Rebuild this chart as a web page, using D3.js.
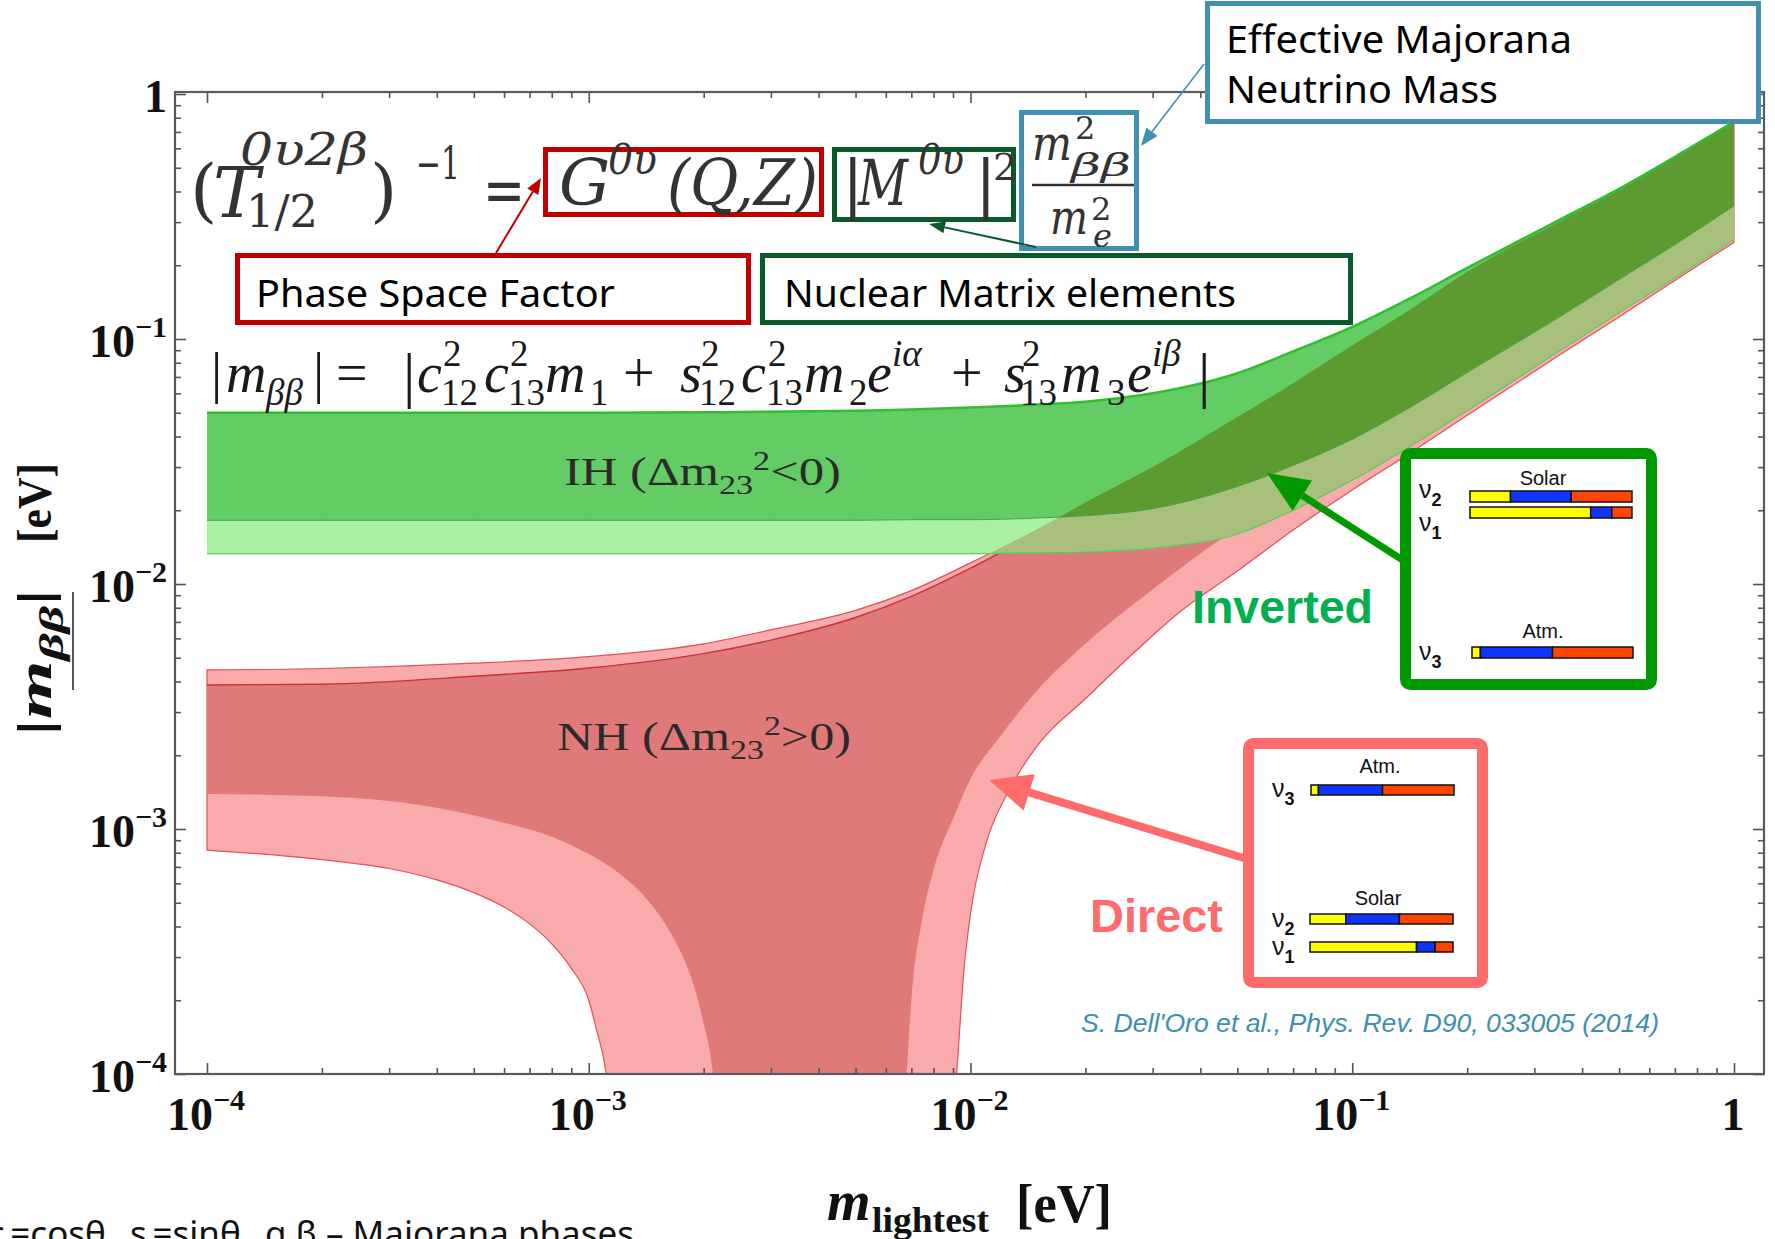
<!DOCTYPE html>
<html>
<head>
<meta charset="utf-8">
<script src="https://cdn.jsdelivr.net/npm/d3@7"></script>
<style>
  body { margin: 0; background: #fff; }
  svg { display: block; }
</style>
</head>
<body>
<div id="chart"></div>
<script>
// m_lightest grid [eV] for the upper edges and the IH band
const mGrid = [1e-4, 2e-4, 5e-4, 1e-3, 2e-3, 3e-3, 5e-3, 7e-3, 1e-2, 1.5e-2, 2e-2, 3e-2, 5e-2, 7e-2, 0.1, 0.14, 0.2, 0.34, 0.5, 0.75, 1.0];

// IH band |m_bb| [eV]
const ihUpper = [0.050, 0.050, 0.050, 0.050, 0.0502, 0.0505, 0.051, 0.0515, 0.0525, 0.054, 0.0555, 0.060, 0.0725, 0.089, 0.112, 0.145, 0.195, 0.30, 0.41, 0.59, 0.77];
const ihMid   = [0.0182, 0.0182, 0.0182, 0.0182, 0.0182, 0.0182, 0.0182, 0.0183, 0.0183, 0.0186, 0.019, 0.0203, 0.025, 0.0305, 0.039, 0.052, 0.073, 0.12, 0.175, 0.26, 0.35];
const ihLow   = [0.0133, 0.0133, 0.0133, 0.0133, 0.0133, 0.0133, 0.0133, 0.0133, 0.0133, 0.0134, 0.0135, 0.0140, 0.0160, 0.0200, 0.0265, 0.036, 0.051, 0.087, 0.128, 0.19, 0.255];

// NH band upper edges |m_bb| [eV]
const nhUpperLight = [0.00446, 0.00452, 0.00475, 0.00505, 0.0057, 0.0065, 0.0078, 0.0094, 0.0122, 0.0168, 0.0215, 0.030, 0.048, 0.066, 0.094, 0.13, 0.188, 0.295, 0.405, 0.585, 0.765];
const nhUpperDark  = [0.00387, 0.0039, 0.0042, 0.00454, 0.0052, 0.0059, 0.0073, 0.0089, 0.0116, 0.0163, 0.021, 0.0295, 0.047, 0.065, 0.092, 0.128, 0.185, 0.29, 0.40, 0.58, 0.76];

// NH lower edge, left branch (falls into the cancellation funnel)
const nhLeftLightM = [1e-4, 2e-4, 3e-4, 4e-4, 5e-4, 6e-4, 7e-4, 8e-4, 9e-4, 1e-3, 1.05e-3, 1.1e-3, 1.13e-3, 1.15e-3];
const nhLeftLight  = [0.00082, 0.00075, 0.00069, 0.00062, 0.00055, 0.00048, 0.00041, 0.00034, 0.00027, 0.0002, 0.00015, 0.00011, 0.00008, 0.00005];
const nhLeftDarkM  = [1e-4, 2e-4, 4e-4, 6e-4, 8e-4, 1e-3, 1.2e-3, 1.4e-3, 1.6e-3, 1.8e-3, 1.9e-3, 2.0e-3, 2.1e-3, 2.2e-3];
const nhLeftDark   = [0.00139, 0.00136, 0.00122, 0.00106, 0.00093, 0.00079, 0.00066, 0.00053, 0.00040, 0.00028, 0.00022, 0.00016, 0.00011, 0.00005];

// NH lower edge, right branch (rises out of the funnel)
const nhRightDarkM  = [6.5e-3, 6.8e-3, 7e-3, 7.5e-3, 8e-3, 9e-3, 0.01, 0.012, 0.015, 0.02, 0.03, 0.05, 0.07, 0.1, 0.14, 0.2, 0.34, 0.5, 0.75, 1.0];
const nhRightDark   = [0.00005, 0.0001, 0.0002, 0.00044, 0.00068, 0.0011, 0.0016, 0.0024, 0.0037, 0.0057, 0.0095, 0.017, 0.024, 0.035, 0.050, 0.070, 0.12, 0.175, 0.26, 0.35];
const nhRightLightM = [8.9e-3, 9.2e-3, 9.6e-3, 0.01, 0.011, 0.0125, 0.015, 0.02, 0.027, 0.035, 0.05, 0.07, 0.1, 0.14, 0.2, 0.34, 0.5, 0.75, 1.0];
const nhRightLight  = [0.00005, 0.0001, 0.00026, 0.00045, 0.00088, 0.0014, 0.0022, 0.0034, 0.0053, 0.0076, 0.0113, 0.0166, 0.0242, 0.0338, 0.0488, 0.0838, 0.123, 0.186, 0.248];

// axis ticks
const majorTicks = [1e-4, 1e-3, 1e-2, 1e-1, 1];

// flavour content of the mass states (e, mu, tau)
const nu1Mix = [0.745, 0.13, 0.125];
const nu2Mix = [0.25, 0.375, 0.375];
const nu3Mix = [0.052, 0.448, 0.50];

const W = 1775, H = 1239;
const frame = {left: 175, right: 1764, top: 92, bottom: 1074};

const svg = d3.select("#chart").append("svg")
    .attr("width", W)
    .attr("height", H)
    .style("background", "#fff");

const x = d3.scaleLog().domain([1e-4, 1]).range([207, 1734]);
const y = d3.scaleLog().domain([1e-4, 1]).range([1074, 94]);

function pts(ms, vs) { return ms.map((m, i) => [m, vs[i]]); }

const line = d3.line()
    .x(d => x(d[0]))
    .y(d => y(d[1]))
    .curve(d3.curveMonotoneX);

// closed region: upper edge left->right, right branch back down, left branch back up
function regionPath(upper, right, left) {
    let p = line(upper);
    p += line(right.slice().reverse()).replace(/^M/, "L");
    p += line(left.slice().reverse()).replace(/^M/, "L");
    return p + "Z";
}

const nhLightPath = regionPath(pts(mGrid, nhUpperLight), pts(nhRightLightM, nhRightLight), pts(nhLeftLightM, nhLeftLight));
const nhDarkPath  = regionPath(pts(mGrid, nhUpperDark), pts(nhRightDarkM, nhRightDark), pts(nhLeftDarkM, nhLeftDark));

const ihData = mGrid.map((m, i) => ({m: m, hi: ihUpper[i], mid: ihMid[i], lo: ihLow[i]}));
const ihMidArea = d3.area().x(d => x(d.m)).y0(d => y(d.mid)).y1(d => y(d.hi)).curve(d3.curveMonotoneX);
const ihLowArea = d3.area().x(d => x(d.m)).y0(d => y(d.lo)).y1(d => y(d.mid)).curve(d3.curveMonotoneX);

const defs = svg.append("defs");
defs.append("clipPath").attr("id", "plotClip")
    .append("rect")
    .attr("x", frame.left).attr("y", frame.top)
    .attr("width", frame.right - frame.left).attr("height", frame.bottom - frame.top);
defs.append("clipPath").attr("id", "nhClip")
    .append("path").attr("d", nhLightPath);

const plot = svg.append("g").attr("clip-path", "url(#plotClip)");

// NH bands
plot.append("path").attr("d", nhLightPath).attr("fill", "#f9aaaa").attr("stroke", "#e0505c").attr("stroke-width", 1.2);
plot.append("path").attr("d", nhDarkPath).attr("fill", "#e07a7a");
plot.append("path").attr("d", line(pts(mGrid, nhUpperDark))).attr("fill", "none").attr("stroke", "#c8303e").attr("stroke-width", 1.4);

// IH bands
plot.append("path").datum(ihData).attr("d", ihLowArea).attr("fill", "#a9f0a0");
plot.append("path").datum(ihData).attr("d", ihMidArea).attr("fill", "#64cc64");

// overlap of IH with NH
const over = plot.append("g").attr("clip-path", "url(#nhClip)");
over.append("path").datum(ihData).attr("d", ihLowArea).attr("fill", "#a9c07c");
over.append("path").datum(ihData).attr("d", ihMidArea).attr("fill", "#5e9a32");

// IH edges
plot.append("path").attr("d", line(pts(mGrid, ihUpper))).attr("fill", "none").attr("stroke", "#2fbf2f").attr("stroke-width", 2.5);
plot.append("path").attr("d", line(pts(mGrid, ihMid))).attr("fill", "none").attr("stroke", "#46a046").attr("stroke-width", 1);
plot.append("path").attr("d", line(pts(mGrid, ihLow))).attr("fill", "none").attr("stroke", "#5ccc5c").attr("stroke-width", 1.2);

// minor ticks per decade
let minorTicks = [];
majorTicks.slice(0, -1).forEach(d => { for (let k = 2; k < 10; k++) minorTicks.push(k * d); });

function tickAxis(axisFn, scale, vals, size, tr) {
    const g = svg.append("g").attr("transform", tr)
        .call(axisFn(scale).tickValues(vals).tickSize(size).tickFormat(""));
    g.select(".domain").remove();
    g.selectAll("line").attr("stroke", "#555").attr("stroke-width", 1.6);
}
tickAxis(d3.axisBottom, x, majorTicks, -11, "translate(0," + frame.bottom + ")");
tickAxis(d3.axisBottom, x, minorTicks, -6, "translate(0," + frame.bottom + ")");
tickAxis(d3.axisTop, x, majorTicks, -11, "translate(0," + frame.top + ")");
tickAxis(d3.axisTop, x, minorTicks, -6, "translate(0," + frame.top + ")");
tickAxis(d3.axisLeft, y, majorTicks, -11, "translate(" + frame.left + ",0)");
tickAxis(d3.axisLeft, y, minorTicks, -6, "translate(" + frame.left + ",0)");
tickAxis(d3.axisRight, y, majorTicks, -11, "translate(" + frame.right + ",0)");
tickAxis(d3.axisRight, y, minorTicks, -6, "translate(" + frame.right + ",0)");

// frame
svg.append("rect")
    .attr("x", frame.left).attr("y", frame.top)
    .attr("width", frame.right - frame.left).attr("height", frame.bottom - frame.top)
    .attr("fill", "none").attr("stroke", "#5a5a5a").attr("stroke-width", 2.2);

// tick labels 10^n
function powLabel(v, px, py, anchor) {
    const e = Math.round(Math.log10(v));
    const t = svg.append("text")
        .attr("x", px).attr("y", py).attr("text-anchor", anchor)
        .attr("font-family", "Liberation Serif, serif").attr("font-weight", "bold")
        .attr("font-size", 46).attr("fill", "#111");
    if (e === 0) { t.text("1"); return; }
    t.append("tspan").text("10");
    t.append("tspan").attr("font-size", 30).attr("dy", -20).text("\u2212" + (-e));
}
majorTicks.forEach(v => powLabel(v, 167, y(v) + 18, "end"));
majorTicks.forEach(v => powLabel(v, x(v) - 1, 1130, "middle"));

// axis titles
const yt = svg.append("text")
    .attr("transform", "translate(51,736) rotate(-90)")
    .attr("font-family", "Liberation Serif, serif").attr("font-weight", "bold")
    .attr("font-size", 48).attr("fill", "#111")
    .attr("textLength", 147).attr("lengthAdjust", "spacingAndGlyphs");
yt.append("tspan").text("|");
yt.append("tspan").attr("font-style", "italic").text("m");
yt.append("tspan").attr("font-style", "italic").attr("font-size", 34).attr("dy", 12).text("\u03b2\u03b2");
yt.append("tspan").attr("dy", -12).text("|");
svg.append("text")
    .attr("transform", "translate(51,543) rotate(-90)")
    .attr("font-family", "Liberation Serif, serif").attr("font-weight", "bold")
    .attr("font-size", 48).attr("fill", "#111")
    .attr("textLength", 80).attr("lengthAdjust", "spacingAndGlyphs")
    .text("[eV]");
svg.append("line").attr("x1", 73).attr("x2", 73).attr("y1", 592).attr("y2", 690)
    .attr("stroke", "#222").attr("stroke-width", 1.5);

svg.append("text").attr("x", 827).attr("y", 1220)
    .attr("font-family", "Liberation Serif, serif").attr("font-weight", "bold").attr("font-style", "italic")
    .attr("font-size", 56).attr("fill", "#111").text("m");
svg.append("text").attr("x", 872).attr("y", 1232)
    .attr("font-family", "Liberation Serif, serif").attr("font-weight", "bold")
    .attr("font-size", 36).attr("fill", "#111")
    .attr("textLength", 117).attr("lengthAdjust", "spacingAndGlyphs").text("lightest");
svg.append("text").attr("x", 1016).attr("y", 1222)
    .attr("font-family", "Liberation Serif, serif").attr("font-weight", "bold")
    .attr("font-size", 54).attr("fill", "#111")
    .attr("textLength", 96).attr("lengthAdjust", "spacingAndGlyphs").text("[eV]");

// band labels
function hierLabel(txt, sign, px, py, len) {
    const t = svg.append("text").attr("x", px).attr("y", py)
        .attr("font-family", "Liberation Serif, serif").attr("font-size", 40).attr("fill", "#2b2b2b")
        .attr("textLength", len).attr("lengthAdjust", "spacingAndGlyphs");
    t.append("tspan").text(txt + " (\u0394m");
    t.append("tspan").attr("font-size", 27).attr("dy", 9).text("23");
    t.append("tspan").attr("font-size", 27).attr("dy", -24).text("2");
    t.append("tspan").attr("dy", 15).text(sign + "0)");
}
hierLabel("IH", "<", 564, 485, 277);
hierLabel("NH", ">", 557, 750, 294);

// ---- annotations ----
function box(x0, y0, x1, y1, color, sw, rx, fill) {
    svg.append("rect")
        .attr("x", x0 + sw / 2).attr("y", y0 + sw / 2)
        .attr("width", x1 - x0 - sw).attr("height", y1 - y0 - sw)
        .attr("rx", rx || 0)
        .attr("fill", fill || "#fff").attr("stroke", color).attr("stroke-width", sw);
}

function arrow(x1, y1, x2, y2, color, sw, hl, hw) {
    const a = Math.atan2(y2 - y1, x2 - x1);
    const bx = x2 - hl * Math.cos(a), by = y2 - hl * Math.sin(a);
    svg.append("line").attr("x1", x1).attr("y1", y1).attr("x2", bx).attr("y2", by)
        .attr("stroke", color).attr("stroke-width", sw);
    const nx = -Math.sin(a) * hw / 2, ny = Math.cos(a) * hw / 2;
    svg.append("polygon")
        .attr("points", [[x2, y2], [bx + nx, by + ny], [bx - nx, by - ny]].map(p => p.join(",")).join(" "))
        .attr("fill", color);
}

function label(txt, px, py, size, len, color, extra) {
    const t = svg.append("text").attr("x", px).attr("y", py)
        .attr("font-family", "Noto Sans, Open Sans, sans-serif").attr("font-size", size)
        .attr("fill", color || "#000").text(txt);
    if (len) t.attr("textLength", len).attr("lengthAdjust", "spacingAndGlyphs");
    if (extra) extra(t);
    return t;
}

// formula boxes
box(543, 147, 824, 217, "#c00000", 5, 0, "none");
box(832, 147, 1016, 222, "#0b5a2c", 5, 0, "none");
box(1019, 110, 1139, 251, "#4090b0", 5, 0, "#fff");

// formula 1
const f1 = svg.append("g").attr("fill", "#333").attr("font-family", "DejaVu Serif, serif");
const f1Tokens = [
    {t: "(", x: 190, y: 214, s: 70},
    {t: "T", x: 213, y: 217, s: 70, it: 1},
    {t: "0\u03c52\u03b2", x: 240, y: 165, s: 44, it: 1, w: 128},
    {t: "1/2", x: 246, y: 227, s: 44, w: 72},
    {t: ")", x: 370, y: 214, s: 70},
    {t: "\u22121", x: 416, y: 179, s: 44, w: 44},
    {t: "=", x: 483, y: 212, s: 66, w: 42},
    {t: "G", x: 559, y: 205, s: 64, it: 1},
    {t: "0\u03c5", x: 608, y: 174, s: 42, it: 1, w: 49},
    {t: "(Q,Z)", x: 667, y: 205, s: 64, it: 1, w: 151},
    {t: "|", x: 842, y: 206, s: 64},
    {t: "M", x: 858, y: 205, s: 64, it: 1, w: 50},
    {t: "0\u03c5", x: 918, y: 174, s: 42, it: 1, w: 46},
    {t: "|", x: 975, y: 206, s: 64},
    {t: "2", x: 993, y: 180, s: 38},
    {t: "m", x: 1032, y: 160, s: 48, it: 1, w: 40},
    {t: "2", x: 1075, y: 139, s: 32},
    {t: "\u03b2\u03b2", x: 1071, y: 176, s: 32, it: 1, w: 60},
    {t: "m", x: 1050, y: 234, s: 48, it: 1, w: 38},
    {t: "2", x: 1091, y: 220, s: 32},
    {t: "e", x: 1093, y: 247, s: 32, it: 1}
];
f1Tokens.forEach(d => {
    const el = f1.append("text").attr("x", d.x).attr("y", d.y).attr("font-size", d.s)
        .attr("font-style", d.it ? "italic" : "normal").text(d.t);
    if (d.w) el.attr("textLength", d.w).attr("lengthAdjust", "spacingAndGlyphs");
});
svg.append("line").attr("x1", 1032).attr("x2", 1134).attr("y1", 185).attr("y2", 185)
    .attr("stroke", "#333").attr("stroke-width", 2.5);

// arrow to the blue box
arrow(1204, 64, 1141, 146, "#4090b0", 1.6, 18, 14);

// boxes with captions
box(235, 253, 751, 325, "#c00000", 5);
label("Phase Space Factor", 256, 307, 38, 359);
box(760, 253, 1353, 325, "#0b5a2c", 5);
label("Nuclear Matrix elements", 784, 307, 38, 452);
box(1205, 1, 1761, 124, "#4090b0", 5);
label("Effective Majorana", 1226, 53, 38, 346);
label("Neutrino Mass", 1226, 103, 38, 272);

arrow(496, 253, 541, 178, "#c00000", 2, 16, 13);
arrow(1036, 247, 929, 224, "#0b5a2c", 2, 16, 12);

// formula 2
const f2 = svg.append("g").attr("fill", "#1a1a1a").attr("font-family", "Liberation Serif, serif");
const roles = {main: [392, 56], sup: [366, 37], sub: [405, 37], bar: [396, 62]};
const f2Tokens = [
    ["|", 211, "main"], ["m", 226, "main", 1], ["\u03b2\u03b2", 266, "sub", 1], ["|", 313, "main"],
    ["=", 336, "main"], ["|", 403, "bar"],
    ["c", 417, "main", 1], ["2", 443, "sup"], ["12", 441, "sub"],
    ["c", 484, "main", 1], ["2", 510, "sup"], ["13", 508, "sub"],
    ["m", 545, "main", 1], ["1", 590, "sub"],
    ["+", 623, "main"],
    ["s", 680, "main", 1], ["2", 701, "sup"], ["12", 699, "sub"],
    ["c", 741, "main", 1], ["2", 768, "sup"], ["13", 766, "sub"],
    ["m", 804, "main", 1], ["2", 849, "sub"],
    ["e", 867, "main", 1], ["i\u03b1", 892, "sup", 1],
    ["+", 951, "main"],
    ["s", 1004, "main", 1], ["2", 1022, "sup"], ["13", 1020, "sub"],
    ["m", 1061, "main", 1], ["3", 1107, "sub"],
    ["e", 1127, "main", 1], ["i\u03b2", 1152, "sup", 1],
    ["|", 1198, "bar"]
];
f2Tokens.forEach(d => {
    f2.append("text").attr("x", d[1]).attr("y", roles[d[2]][0]).attr("font-size", roles[d[2]][1])
        .attr("font-style", d[3] ? "italic" : "normal").text(d[0]);
});

// inverted / direct annotations
label("Inverted", 1192, 623, 46, 181, "#00b050", t => t.attr("font-family", "Liberation Sans, Arial, sans-serif").attr("font-weight", "bold"));
label("Direct", 1090, 932, 46, 133, "#ff6b6b", t => t.attr("font-family", "Liberation Sans, Arial, sans-serif").attr("font-weight", "bold"));
arrow(1412, 566, 1267, 473, "#009a00", 7, 42, 36);
arrow(1250, 860, 989, 780, "#ff6b6b", 8, 42, 38);

box(1400, 448, 1657, 690, "#009a00", 11, 5);
box(1243, 738, 1488, 988, "#ff6b6b", 11, 5);

const flavColors = ["#ffff00", "#1034ff", "#ff4500"];
function mixBar(x0, x1, y0, h, mix) {
    const bx = d3.scaleLinear().domain([0, 1]).range([x0, x1]);
    let acc = 0;
    mix.forEach((f, i) => {
        svg.append("rect").attr("x", bx(acc)).attr("y", y0).attr("width", bx(acc + f) - bx(acc)).attr("height", h)
            .attr("fill", flavColors[i]).attr("stroke", "#111").attr("stroke-width", 1.5);
        acc += f;
    });
}
function nuLabel(n, px, py) {
    const t = svg.append("text").attr("x", px).attr("y", py)
        .attr("font-family", "Liberation Sans, Arial, sans-serif").attr("font-size", 25).attr("fill", "#111");
    t.append("tspan").text("\u03bd");
    t.append("tspan").attr("font-size", 18).attr("font-weight", "bold").attr("dy", 8).text(n);
}
function smallTitle(txt, cx, py) {
    svg.append("text").attr("x", cx).attr("y", py).attr("text-anchor", "middle")
        .attr("font-family", "Liberation Sans, Arial, sans-serif").attr("font-size", 20).attr("fill", "#111").text(txt);
}

// inverted ordering legend
smallTitle("Solar", 1543, 485);
nuLabel("2", 1419, 498);
mixBar(1470, 1632, 491, 11, nu2Mix);
mixBar(1470, 1632, 507, 11, nu1Mix);
nuLabel("1", 1419, 531);
smallTitle("Atm.", 1543, 638);
nuLabel("3", 1419, 660);
mixBar(1472, 1633, 647, 11, nu3Mix);

// normal ordering legend
smallTitle("Atm.", 1380, 773);
nuLabel("3", 1272, 797);
mixBar(1311, 1454, 785, 10, nu3Mix);
smallTitle("Solar", 1378, 905);
nuLabel("2", 1272, 927);
mixBar(1310, 1453, 914, 10, nu2Mix);
mixBar(1310, 1453, 942, 10, nu1Mix);
nuLabel("1", 1272, 955);

// reference
svg.append("text").attr("x", 1081).attr("y", 1032)
    .attr("font-family", "Liberation Sans Narrow, Liberation Sans, sans-serif").attr("font-style", "italic")
    .attr("font-size", 25).attr("fill", "#3f8fae")
    .attr("textLength", 578).attr("lengthAdjust", "spacingAndGlyphs")
    .text("S. Dell'Oro et al., Phys. Rev. D90, 033005 (2014)");

// footnote, cut by the slide edge
const fn = svg.append("text").attr("x", 634).attr("y", 1246).attr("text-anchor", "end")
    .attr("font-family", "Noto Sans, Open Sans, sans-serif").attr("font-size", 35).attr("fill", "#111");
fn.append("tspan").text("c");
fn.append("tspan").attr("font-size", 11).attr("dy", 4).text("ij");
fn.append("tspan").attr("dy", -4).text("=cos\u03b8");
fn.append("tspan").attr("font-size", 11).attr("dy", 4).text("ij");
fn.append("tspan").attr("dy", -4).text(", s");
fn.append("tspan").attr("font-size", 11).attr("dy", 4).text("ij");
fn.append("tspan").attr("dy", -4).text("=sin\u03b8");
fn.append("tspan").attr("font-size", 11).attr("dy", 4).text("ij");
fn.append("tspan").attr("dy", -4).text(", \u03b1,\u03b2 \u2013 Majorana phases");
</script>
</body>
</html>
